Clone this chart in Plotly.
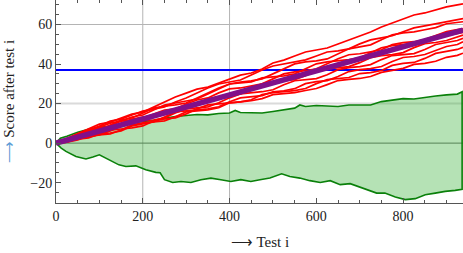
import plotly.graph_objects as go

# ---------------- data ----------------
XS = [0, 25, 50, 75, 100, 125, 150, 175, 200, 225, 250, 275, 300, 325, 350, 375, 400,
      425, 450, 475, 500, 525, 550, 575, 600, 625, 650, 675, 700, 725, 750, 775, 800,
      825, 850, 875, 900, 925, 938]

red_1 = [0, 2.5, 4.6, 7.1, 9.6, 10.6, 12.65, 14.7, 15.7, 18.2, 20.75, 23.3, 25.3, 27.3, 28.35,
         30.4, 32.4, 34.4, 35.45, 37.5, 40.5, 42, 44.05, 46.1, 47.1, 48.1, 50.15, 52.2, 54.2,
         56.2, 58.75, 60.8, 62.8, 64.8, 65.85, 67.4, 68.9, 69.9, 70.4]
red_2 = [0, 2, 4.55, 6.6, 8.6, 11.1, 12.15, 14.2, 16.2, 17.2, 18.25, 20.8, 22.8, 25.3, 27.85,
         29.9, 30.9, 31.9, 34.45, 37, 39, 40, 41.05, 42.1, 44.1, 46.1, 46.65, 47.7, 50.2, 52.2,
         53.25, 54.3, 56.3, 58.3, 59.35, 60.4, 61.4, 62.4, 63]
red_3 = [0, 1, 3.05, 5.6, 7.6, 8.6, 11.15, 13.2, 14.2, 16.7, 19.25, 20.3, 21.3, 22.3, 24.85,
         27.4, 29.9, 30.9, 31.45, 32.5, 35, 37.5, 40.05, 41.1, 41.6, 42.6, 45.15, 47.7, 48.7,
         49.7, 52.25, 54.8, 55.8, 56.3, 57.35, 58.4, 60.4, 61.2, 61.4]
red_4 = [0, 2, 4.05, 5.1, 5.6, 7.6, 10.15, 12.2, 13.2, 13.7, 14.75, 17.3, 19.8, 21.8, 22.85,
         25.4, 27.4, 27.9, 28.95, 30, 32.5, 35, 36.05, 36.6, 37.6, 40.1, 42.65, 44.7, 45.2,
         46.2, 47.25, 49.8, 50.8, 51.3, 52.35, 54.4, 56.4, 57.4, 57.8]
red_5 = [0, 1, 2.05, 4.1, 6.6, 9.1, 11.65, 12.7, 15.2, 17.7, 18.75, 19.3, 20.3, 22.8, 25.35,
         27.9, 29.9, 30.4, 30.95, 33, 33.5, 34, 35.05, 37.6, 40.1, 41.1, 41.65, 42.2, 43.2,
         45.7, 48.25, 49.3, 49.8, 50.3, 51.35, 53.4, 54.4, 55.4, 56]
red_6 = [0, 1.5, 3.55, 6.1, 8.1, 10.1, 11.15, 11.7, 12.7, 14.7, 16.75, 17.3, 17.8, 19.8, 22.35,
         23.4, 23.9, 24.9, 27.45, 30, 31, 31.5, 32.05, 34.1, 36.6, 37.6, 38.15, 38.7, 40.7,
         43.2, 44.25, 44.8, 45.8, 48.3, 50.35, 50.9, 51.9, 53.9, 54.7]
red_7 = [0, 0.5, 1.55, 3.6, 4.1, 6.1, 8.65, 10.7, 11.2, 11.7, 12.75, 15.3, 17.3, 17.8, 18.35,
         20.4, 22.9, 24.9, 25.45, 26, 27, 29.5, 31.55, 32.1, 32.6, 34.6, 37.15, 38.2, 38.7,
         39.7, 42.25, 44.3, 44.8, 45.3, 47.35, 49.9, 50.9, 51.9, 53]
red_8 = [0, 2, 3.05, 3.6, 4.6, 5.1, 6.15, 8.7, 9.7, 10.7, 13.25, 15.8, 16.3, 16.8, 17.35,
         18.4, 20.9, 22.9, 23.45, 24, 26, 26.5, 27.55, 30.1, 31.1, 31.6, 33.65, 36.2, 37.2,
         37.7, 38.75, 41.3, 43.3, 43.8, 44.85, 46.9, 48.9, 49.9, 51.3]
red_9 = [0, 1, 2.05, 2.6, 4.6, 6.6, 7.15, 7.7, 8.7, 11.2, 12.25, 12.8, 14.8, 17.3, 19.35,
         19.9, 20.4, 20.9, 21.95, 24.5, 25.5, 26, 26.55, 27.6, 30.1, 32.1, 32.65, 33.2, 35.2,
         35.7, 36.75, 39.3, 40.3, 40.8, 42.85, 45.4, 46.4, 47.4, 48.5]
red_10 = [0, 0.5, 2.55, 3.1, 4.1, 4.6, 6.65, 9.2, 10.2, 10.7, 11.25, 13.3, 15.8, 16.3, 16.85,
          17.9, 20.4, 20.9, 21.45, 22.5, 24.5, 25, 25.55, 26.6, 27.6, 29.6, 31.65, 32.2, 32.7,
          33.7, 35.75, 36.8, 37.8, 39.8, 40.35, 41.4, 43.4, 44.4, 45.5]
red_series = [red_1, red_2, red_3, red_4, red_5, red_6, red_7, red_8, red_9, red_10]

mean_x = [0, 938]
mean_y = [0, 57.2]

target_x = [0, 938]
target_y = [37, 37]

green_up_x = [0, 10, 25, 50, 75, 100, 125, 150, 175, 200, 225, 250, 275, 300, 325, 350, 375,
              400, 413, 425, 450, 475, 500, 525, 550, 562, 575, 600, 625, 650, 675, 700, 725,
              750, 775, 800, 825, 850, 875, 900, 925, 936]
green_up_y = [0, 2.5, 3.5, 5.5, 7, 8, 8.5, 9, 10.5, 11, 11.5, 12.5, 13.5, 14, 14.5, 14.3, 15,
              15.2, 16.5, 15.5, 15.2, 15.2, 16, 16.8, 17.7, 19.3, 18.5, 19, 18.9, 18.5, 19.3,
              19.3, 19.3, 21, 21.9, 22.5, 22.3, 23.2, 23.8, 24.4, 24.8, 26]
green_lo_x = [0, 12, 23, 46, 69, 85, 100, 122, 145, 161, 184, 207, 230, 240, 250, 269, 288,
              311, 334, 357, 380, 403, 426, 449, 470, 493, 520, 539, 562, 585, 609, 632, 655,
              678, 701, 720, 739, 758, 782, 805, 828, 851, 874, 897, 920, 936]
green_lo_y = [0, -2.5, -4.2, -6.8, -8, -7, -5.9, -8.4, -11, -11.8, -11.5, -13.5, -14.8, -15,
              -18.5, -19.9, -19.4, -19.9, -18.5, -17.7, -18.5, -19.4, -18.5, -19.4, -18.5,
              -17.7, -15.5, -16.9, -17.7, -19, -19.9, -19, -21, -20.5, -22.2, -23.9, -25.3,
              -25.3, -27.3, -28.6, -28.1, -26.1, -25.3, -24.4, -23.9, -23.4]

x_ticks = [0, 200, 400, 600, 800]
y_ticks = [-20, 0, 20, 40, 60]
x_grid = [200, 400]
y_grid = [20, 60]

# ---------------- figure ----------------
FONT = "Liberation Serif, Times New Roman, serif"
fig = go.Figure()

fig.add_trace(go.Scatter(
    x=green_up_x + green_lo_x[::-1], y=green_up_y + green_lo_y[::-1],
    mode="lines", fill="toself", fillcolor="rgba(60,180,60,0.38)",
    line=dict(color="#0a800a", width=1.6), hoverinfo="skip"))

fig.add_trace(go.Scatter(x=target_x, y=target_y, mode="lines",
                         line=dict(color="#0000ff", width=2)))

for s in red_series:
    fig.add_trace(go.Scatter(x=XS, y=s, mode="lines",
                             line=dict(color="#ff0000", width=1.7)))

fig.add_trace(go.Scatter(x=mean_x, y=mean_y, mode="lines",
                         line=dict(color="#80108a", width=5.5)))

shapes = []
for gx in x_grid:
    shapes.append(dict(type="line", xref="x", yref="paper", x0=gx, x1=gx, y0=0, y1=1,
                       line=dict(color="#b4b4b4", width=1), layer="below"))
shapes.append(dict(type="line", xref="paper", yref="y", x0=0, x1=1, y0=y_grid[0], y1=y_grid[0],
                   line=dict(color="#dadada", width=2), layer="below"))
shapes.append(dict(type="line", xref="paper", yref="y", x0=0, x1=1, y0=y_grid[1], y1=y_grid[1],
                   line=dict(color="#b4b4b4", width=1), layer="below"))
shapes.append(dict(type="line", xref="paper", yref="y", x0=0, x1=1, y0=0, y1=0,
                   line=dict(color="#666666", width=1), layer="below"))

annotations = [
    dict(text="⟶ Test i", xref="paper", yref="paper", x=0.5, y=-0.192,
         xanchor="center", yanchor="middle", showarrow=False,
         font=dict(family=FONT, size=15, color="#222222")),
    dict(text="<span style='color:#5b9bd5'>⟶</span> Score after test i",
         xref="paper", yref="paper", x=-0.1155, y=0.5, textangle=-90,
         xanchor="center", yanchor="middle", showarrow=False,
         font=dict(family=FONT, size=15, color="#222222")),
]

fig.update_layout(
    width=463, height=253,
    margin=dict(l=56, r=0, t=0, b=50),
    paper_bgcolor="white", plot_bgcolor="white",
    showlegend=False,
    shapes=shapes,
    annotations=annotations,
    font=dict(family=FONT, size=14, color="#222222"),
    xaxis=dict(range=[0, 938], tickvals=x_ticks, ticks="inside", ticklen=5,
               tickcolor="#555555", showgrid=False, zeroline=False, automargin=False,
               showline=True, linecolor="#555555", linewidth=1, mirror="ticks",
               minor=dict(ticks="inside", dtick=50, ticklen=3, tickcolor="#555555", showgrid=False),
               tickfont=dict(family=FONT, size=14, color="#222222")),
    yaxis=dict(range=[-30.3, 72.4], tickvals=y_ticks, ticks="inside", ticklen=5,
               tickcolor="#555555", showgrid=False, zeroline=False, automargin=False,
               showline=True, linecolor="#555555", linewidth=1,
               minor=dict(ticks="inside", dtick=5, ticklen=3, tickcolor="#555555", showgrid=False),
               tickfont=dict(family=FONT, size=14, color="#222222"),
               tickformat="d"),
)

fig.write_html(
    "out.html",
    config={"displayModeBar": False},
    post_script="document.body.style.margin='0';document.body.style.padding='0';"
                "document.body.style.overflow='hidden';",
)
